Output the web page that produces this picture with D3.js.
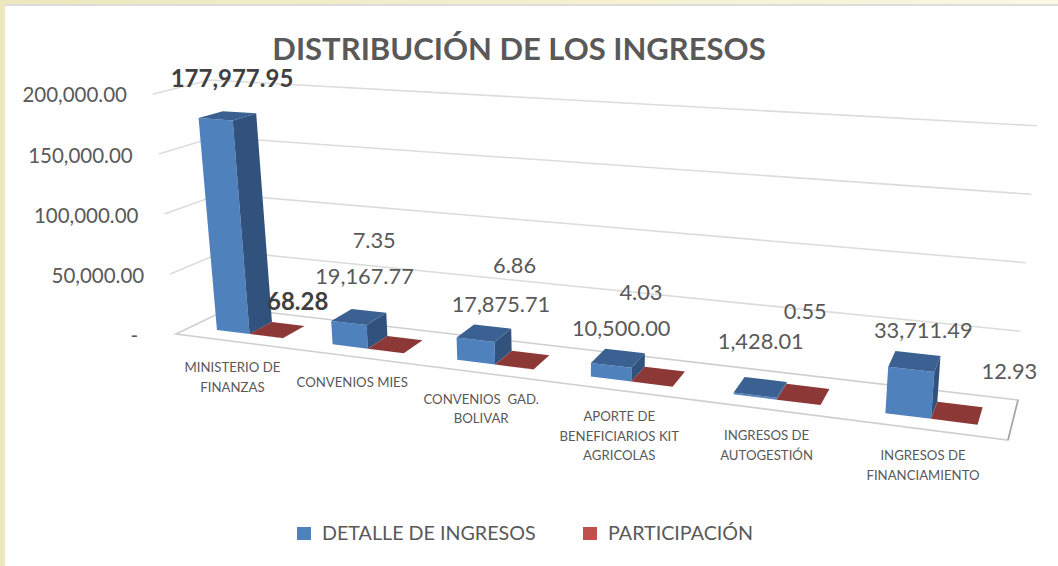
<!DOCTYPE html>
<html>
<head>
<meta charset="utf-8">
<script src="https://cdn.jsdelivr.net/npm/d3@7"></script>
<style>
    html, body { margin: 0; padding: 0; background: #fff; }
    text { font-family: Lato, "Open Sans", sans-serif; fill: #595959; }
</style>
</head>
<body>
<svg id="chart" width="1058" height="566"></svg>
<script>
const categories = [
    ["MINISTERIO DE", "FINANZAS"],
    ["CONVENIOS MIES"],
    ["CONVENIOS  GAD.", "BOLIVAR"],
    ["APORTE DE", "BENEFICIARIOS KIT", "AGRICOLAS"],
    ["INGRESOS DE", "AUTOGESTIÓN"],
    ["INGRESOS DE", "FINANCIAMIENTO"],
];
const ingresos = [177977.95, 19167.77, 17875.71, 10500.0, 1428.01, 33711.49];
const participacion = [68.28, 7.35, 6.86, 4.03, 0.55, 12.93];
const seriesNames = ["DETALLE DE INGRESOS", "PARTICIPACIÓN"];
const axisTicks = [0, 50000, 100000, 150000, 200000];

// hand moved data labels, offset from the top of each bar
const ingresosLabelOffset = [[1, -39], [2, -42], [13, -30], [-1, -31], [-4, -47], [4, -32]];
const participacionLabelOffset = [[16, -30], [-26, -106], [-13, -96], [-23, -86], [-4, -85], [46, -43]];

// corners of the 3d box: floor and the 200,000 plane
const floor = { fl: [176, 334], bl: [230, 308], br: [1018, 400], fr: [1008, 440] };
const roof = { fl: [153, 94], bl: [210, 80], br: [1040, 126], fr: [1033, 155] };

const svg = d3.select("#chart");
const defs = svg.append("defs");
const bandGradient = defs.append("linearGradient").attr("id", "band");
bandGradient.append("stop").attr("offset", "0%").attr("stop-color", "#ece8bb");
bandGradient.append("stop").attr("offset", "100%").attr("stop-color", "#fbf7e2");

// page background
svg.append("rect").attr("width", 1058).attr("height", 566).attr("fill", "#fff");
svg.append("rect").attr("width", 1058).attr("height", 4).attr("fill", "url(#band)");
svg.append("rect").attr("y", 4).attr("width", 1058).attr("height", 2).attr("fill", "#dcdcdc");
svg.append("rect").attr("width", 5).attr("height", 566).attr("fill", "#ece8bb");

const valueScale = d3.scaleLinear().domain([0, 200000]).range([0, 1]);
// columns get wider towards the right of the chart
const perspectiveX = d3.scalePow().exponent(2).domain([12.06, 18.08]).range([0, 1]);
const categoryX = c => perspectiveX(c + 12.06);

function lerp(a, b, t) {
    return [a[0] + (b[0] - a[0]) * t, a[1] + (b[1] - a[1]) * t];
}

function planePoint(plane, u, z) {
    return lerp(lerp(plane.fl, plane.bl, z), lerp(plane.fr, plane.br, z), u);
}

// c: position along categories (0-6), z: depth (0-1), value: axis value
function project(c, z, value) {
    let u = categoryX(c);
    return lerp(planePoint(floor, u, z), planePoint(roof, u, z), valueScale(value));
}

const line = d3.line();
const closed = d3.line().curve(d3.curveLinearClosed);

// back and side walls
let grid = svg.append("g").attr("fill", "none").attr("stroke", "#dcdcdc").attr("stroke-width", 1.6);
axisTicks.filter(t => t > 0).forEach(t => {
    grid.append("path").attr("d", line([project(0, 0, t), project(0, 1, t), project(6, 1, t)]));
});

// floor
grid.append("path").attr("d", closed([floor.fl, floor.bl, floor.br, floor.fr])).attr("stroke", "#cfcfcf");
grid.append("path").attr("d", line([floor.br, floor.fr])).attr("stroke", "#a6a6a6");

// tick labels follow the front left edge
svg.append("g")
    .selectAll("text")
    .data(axisTicks)
    .join("text")
    .attr("x", d => project(0, 0, d)[0] - (d === 0 ? 38 : 26))
    .attr("y", d => project(0, 0, d)[1] + (d === 200000 ? 0 : 1))
    .attr("text-anchor", "end")
    .attr("dominant-baseline", "central")
    .attr("font-size", 20.5)
    .text(d => (d === 0 ? "-" : d3.format(",.2f")(d)));

function drawBar(parent, c0, c1, value, colors) {
    let z0 = 0.28;
    let z1 = 0.72;
    parent.append("path")
        .attr("fill", colors.front)
        .attr("d", closed([project(c0, z0, 0), project(c1, z0, 0), project(c1, z0, value), project(c0, z0, value)]));
    parent.append("path")
        .attr("fill", colors.side)
        .attr("d", closed([project(c1, z0, 0), project(c1, z1, 0), project(c1, z1, value), project(c1, z0, value)]));
    parent.append("path")
        .attr("fill", colors.top)
        .attr("d", closed([project(c0, z0, value), project(c1, z0, value), project(c1, z1, value), project(c0, z1, value)]));
}

const blue = { front: "#4f81bd", side: "#31527c", top: "#3a6191" };
const red = { front: "#a5403d", side: "#7a2f2d", top: "#8c3836" };

let bars = svg.append("g");
categories.forEach((name, i) => {
    drawBar(bars, i + 0.235, i + 0.525, ingresos[i], blue);
    drawBar(bars, i + 0.525, i + 0.815, participacion[i], red);
});

function drawLabels(values, offsets, center) {
    svg.append("g")
        .selectAll("text")
        .data(values)
        .join("text")
        .attr("x", (d, i) => project(i + center, 0.5, d)[0] + offsets[i][0])
        .attr("y", (d, i) => project(i + center, 0.5, d)[1] + offsets[i][1])
        .attr("text-anchor", "middle")
        .attr("dominant-baseline", "central")
        .attr("font-size", (d, i) => (i === 0 ? 24 : 21.8))
        .attr("font-weight", (d, i) => (i === 0 ? 700 : 400))
        .style("fill", (d, i) => (i === 0 ? "#404040" : "#595959"))
        .text(d => d3.format(",.2f")(d));
}

drawLabels(ingresos, ingresosLabelOffset, 0.41);
drawLabels(participacion, participacionLabelOffset, 0.71);

// category names sit under the front edge of the floor
let catLabels = svg.append("g")
    .selectAll("text")
    .data(categories)
    .join("text")
    .attr("text-anchor", "middle")
    .attr("font-size", 13.2);
catLabels.each(function(lines, i) {
    let p = project(i + 0.5, 0, 0);
    d3.select(this)
        .selectAll("tspan")
        .data(lines)
        .join("tspan")
        .attr("x", p[0])
        .attr("y", (d, j) => p[1] + 31 + j * 19.5)
        .attr("xml:space", "preserve")
        .text(d => d);
});

svg.append("text")
    .attr("x", 519)
    .attr("y", 48)
    .attr("text-anchor", "middle")
    .attr("dominant-baseline", "central")
    .attr("font-size", 31)
    .attr("font-weight", 700)
    .text("DISTRIBUCIÓN DE LOS INGRESOS");

// legend
let legendX = d3.scaleOrdinal().domain(seriesNames).range([297, 583]);
let legendColor = d3.scaleOrdinal().domain(seriesNames).range(["#4f81bd", "#c0504d"]);
let legend = svg.append("g")
    .selectAll("g")
    .data(seriesNames)
    .join("g")
    .attr("transform", d => `translate(${legendX(d)},527)`);
legend.append("rect").attr("width", 14).attr("height", 13).attr("fill", d => legendColor(d));
legend.append("text")
    .attr("x", 25)
    .attr("y", 5.5)
    .attr("dominant-baseline", "central")
    .attr("font-size", 19.7)
    .text(d => d);
</script>
</body>
</html>
